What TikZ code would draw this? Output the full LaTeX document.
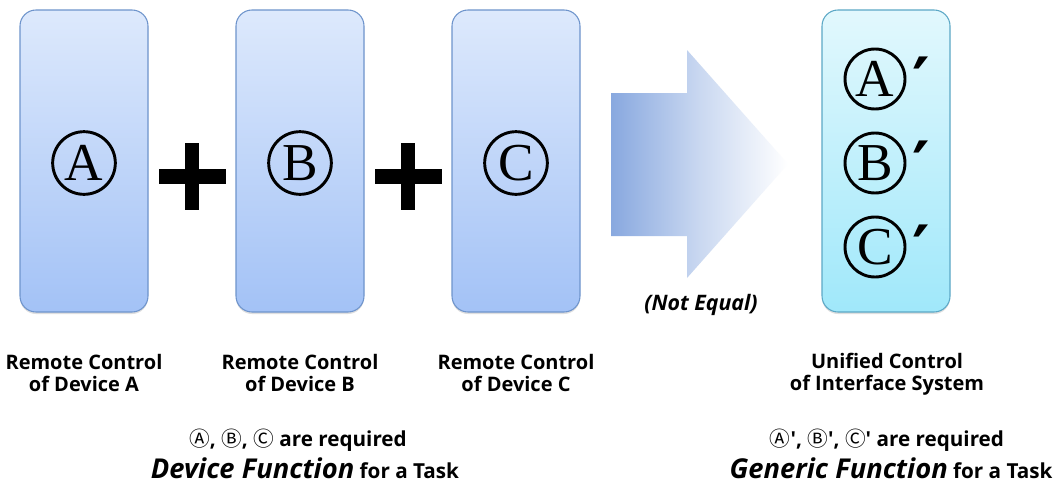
\documentclass[tikz,border=0pt]{standalone}
\usepackage{fontspec}
\setsansfont{Open Sans}
\newfontfamily\letterfont{Liberation Serif}
\newfontfamily\symbolfont{DejaVu Sans}
\newfontfamily\circfont{Noto Sans CJK KR}
\usetikzlibrary{shadows}

\definecolor{boxtop}{RGB}{221,233,252}
\definecolor{boxbottom}{RGB}{163,194,246}
\definecolor{boxline}{RGB}{110,148,204}
\definecolor{unitop}{RGB}{226,248,253}
\definecolor{unibottom}{RGB}{160,232,250}
\definecolor{uniline}{RGB}{92,168,198}
\definecolor{arrowblue}{RGB}{136,168,223}

\tikzset{
	devicebox/.style={draw=boxline, line width=0.8pt, rounded corners=12pt,
		top color=boxtop, bottom color=boxbottom,
		minimum width=96pt, minimum height=226.5pt,
		drop shadow={opacity=0.25, shadow xshift=0pt, shadow yshift=-1.5pt}},
	unifiedbox/.style={devicebox, draw=uniline, top color=unitop, bottom color=unibottom},
	bigletter/.style={circle, draw, line width=2.2pt, inner sep=0pt, minimum size=47pt,
		font=\letterfont\fontsize{40}{40}\selectfont},
	primemark/.style={font=\symbolfont\bfseries\fontsize{50}{50}\selectfont, inner sep=0pt},
	caption/.style={align=center, font=\sffamily\bfseries\fontsize{15}{16.5}\selectfont, inner sep=0pt},
	note/.style={font=\sffamily\bfseries\fontsize{15.5}{16}\selectfont, inner sep=0pt},
}
\newcommand{\bigfn}[1]{{\itshape\fontsize{20.5}{20}\selectfont #1}}
\newcommand{\circled}[1]{{\circfont\mdseries #1}}

\begin{document}
\begin{tikzpicture}[x=0.75pt, y=-0.75pt]
	\path[use as bounding box, fill=white] (0,0) rectangle (1055,493);

	\node[devicebox](boxA) at (84,161){};
	\node[devicebox](boxB) at (300,161){};
	\node[devicebox](boxC) at (516,161){};
	\node[unifiedbox](boxU) at (886,161){};

	\node[bigletter](lA) at (84,163){A};
	\node[bigletter](lB) at (300,163){B};
	\node[bigletter](lC) at (516,163){C};

	\node[bigletter, minimum size=45pt](uA) at (875,79){A};
	\node[bigletter, minimum size=45pt](uB) at (875,163){B};
	\node[bigletter, minimum size=45pt](uC) at (875,247){C};
	\foreach \l in {uA,uB,uC}
		\node[primemark, anchor=north] at ([xshift=34.5pt, yshift=17pt]\l.center){′};

	\foreach \px in {192,408}{
		\fill (\px-33.5,168.5) rectangle (\px+33.5,183.5);
		\fill (\px-7,143) rectangle (\px+7,210);
	}

	\shade[left color=arrowblue, right color=white, middle color=arrowblue!45]
		(611,93) -- (687,93) -- (687,50) -- (788,164) -- (687,278) -- (687,236) -- (611,236) -- cycle;
	\node[note, font=\sffamily\bfseries\itshape\fontsize{16}{16}\selectfont](neq) at (701,305){(Not Equal)};

	\node[caption](capA) at (84,373){Remote Control\\of Device A};
	\node[caption](capB) at (300,373){Remote Control\\of Device B};
	\node[caption](capC) at (516,373){Remote Control\\of Device C};
	\node[caption](capU) at (887,374){Unified Control\\of Interface System};

	\node[note](reqL) at (298,440){\circled{Ⓐ}, \circled{Ⓑ}, \circled{Ⓒ} are required};
	\node[note](taskL) at (305,468){\bigfn{Device Function} for a Task};
	\node[note](reqR) at (887,440){\circled{Ⓐ}′, \circled{Ⓑ}′, \circled{Ⓒ}′ are required};
	\node[note](taskR) at (891,468){\bigfn{Generic Function} for a Task};
\end{tikzpicture}
\end{document}
